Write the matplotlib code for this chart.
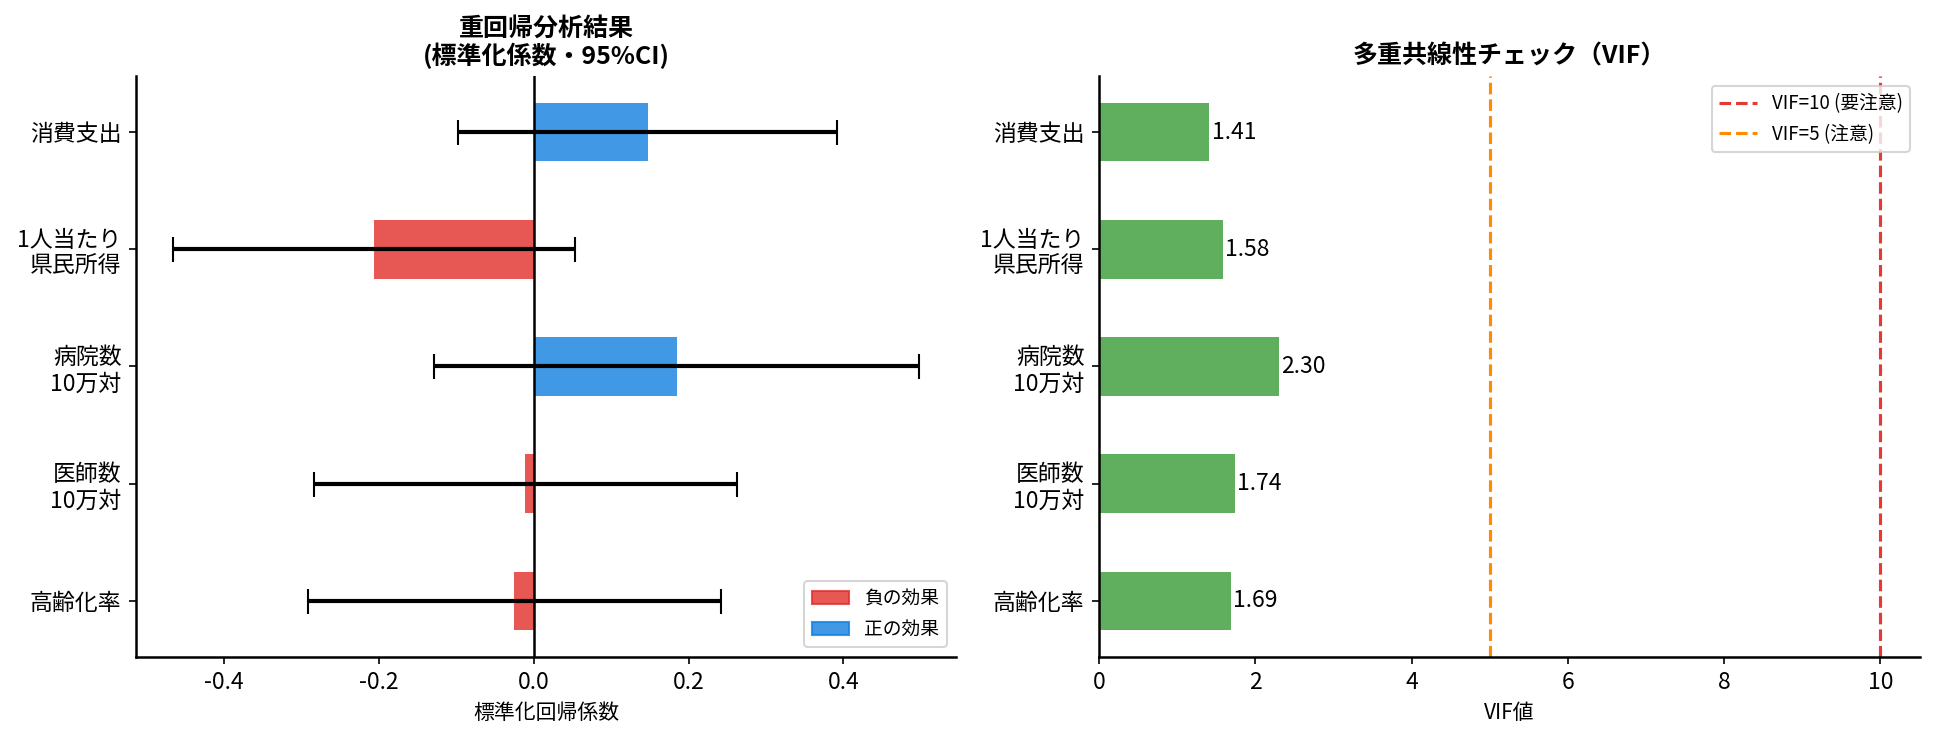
import numpy as np
import matplotlib
matplotlib.use("Agg")
import matplotlib.pyplot as plt
from matplotlib.patches import Patch
from matplotlib.lines import Line2D

plt.rcParams['font.family'] = ['Noto Sans CJK JP', 'DejaVu Sans']
plt.rcParams['axes.unicode_minus'] = False

# 下から上の順
variables = ['高齢化率', '医師数\n10万対', '病院数\n10万対', '1人当たり\n県民所得', '消費支出']
coef = [-0.025, -0.011, 0.185, -0.206, 0.148]
ci_low = [-0.291, -0.283, -0.128, -0.465, -0.097]
ci_high = [0.242, 0.262, 0.497, 0.053, 0.392]
vif = [1.69, 1.74, 2.30, 1.58, 1.41]

RED = '#E22E2B'
BLUE = '#1180E0'
GREEN = '#5FAF5F'

fig = plt.figure(figsize=(12.9, 4.9), dpi=150)
ax1 = fig.add_axes([0.0703, 0.1068, 0.4237, 0.7892])
ax2 = fig.add_axes([0.568, 0.1068, 0.424, 0.7892])

y = np.arange(len(variables))
coef = np.array(coef)
xerr = np.vstack([coef - np.array(ci_low), np.array(ci_high) - coef])
colors = [RED if c < 0 else BLUE for c in coef]

ax1.barh(y, coef, height=0.5, color=colors, alpha=0.8, linewidth=0)
ax1.errorbar(coef, y, xerr=xerr, fmt='none', ecolor='black',
             elinewidth=2, capsize=6, capthick=1)
ax1.axvline(0, color='black', linewidth=1.2)
ax1.set_yticks(y)
ax1.set_yticklabels(variables, fontsize=11)
ax1.tick_params(axis='x', labelsize=11)
ax1.set_xlabel('標準化回帰係数', fontsize=10)
ax1.set_title('重回帰分析結果\n(標準化係数・95%CI)', fontsize=12, fontweight='bold',
              linespacing=1.1)
handles = [Patch(color=RED, alpha=0.8, label='負の効果'),
           Patch(color=BLUE, alpha=0.8, label='正の効果')]
ax1.legend(handles=handles, loc='lower right', fontsize=9)

ax2.barh(y, vif, height=0.5, color=GREEN, linewidth=0)
for yi, v in zip(y, vif):
    ax2.text(v + 0.03, yi, f'{v:.2f}', va='center', ha='left', fontsize=11)
ax2.axvline(10, color='#E53935', linestyle='--', linewidth=1.5)
ax2.axvline(5, color='#FF8C00', linestyle='--', linewidth=1.5)
ax2.set_xlim(0, 10.5)
ax2.set_ylim(ax1.get_ylim())
ax2.set_xticks(np.arange(0, 11, 2))
ax2.set_yticks(y)
ax2.set_yticklabels(variables, fontsize=11)
ax2.tick_params(axis='x', labelsize=11)
ax2.set_xlabel('VIF値', fontsize=10)
ax2.set_title('多重共線性チェック（VIF）', fontsize=12, fontweight='bold')
lines = [Line2D([0], [0], color='#E53935', linestyle='--', linewidth=1.5, label='VIF=10 (要注意)'),
         Line2D([0], [0], color='#FF8C00', linestyle='--', linewidth=1.5, label='VIF=5 (注意)')]
ax2.legend(handles=lines, loc='upper right', fontsize=9)

for ax in (ax1, ax2):
    ax.spines['top'].set_visible(False)
    ax.spines['right'].set_visible(False)
    for s in ('left', 'bottom'):
        ax.spines[s].set_linewidth(1.2)

fig.savefig('out.png', dpi=150)
